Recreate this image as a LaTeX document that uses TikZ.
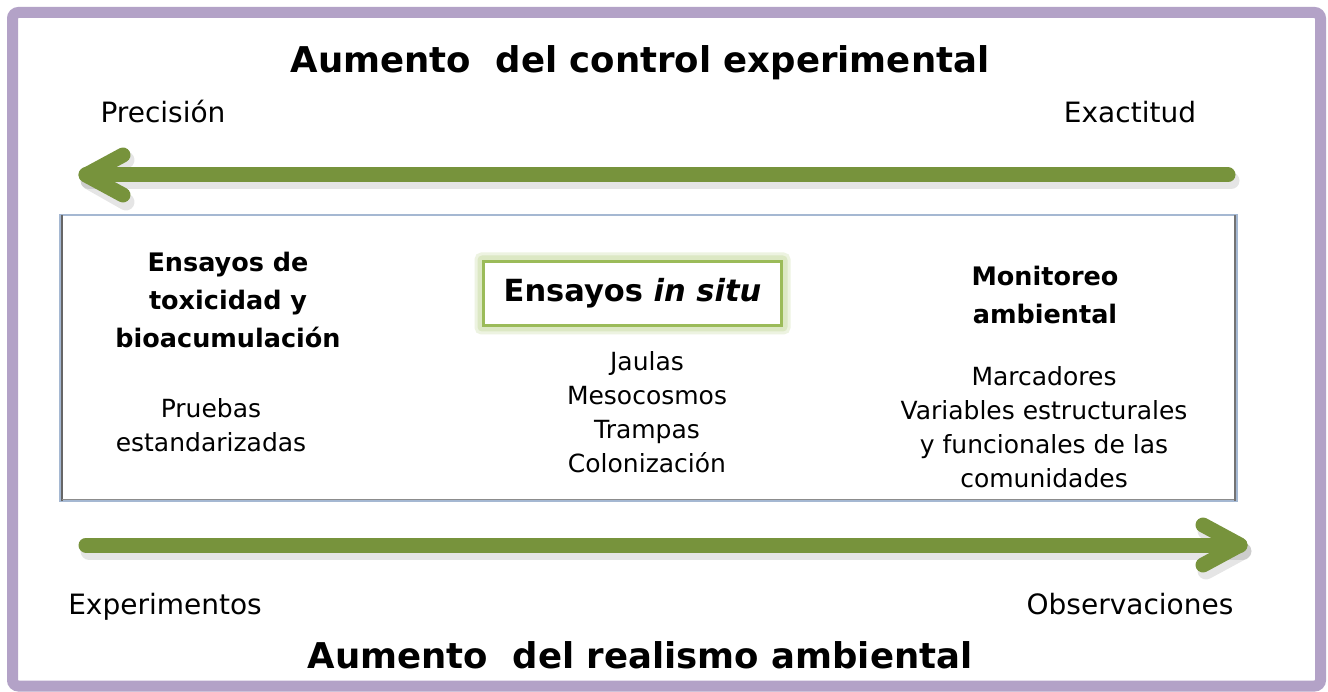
\documentclass[tikz,border=0pt]{standalone}
\usepackage{fontspec}
\setmainfont{DejaVu Sans}
\usetikzlibrary{positioning}

\begin{document}
\begin{tikzpicture}[x=1pt, y=-1pt,
    cornerlabel/.style={font=\fontsize{28}{32}\selectfont, inner sep=0pt, anchor=base},
    heading/.style={font=\bfseries\fontsize{25.5}{38}\selectfont, align=center, inner sep=0pt},
    body/.style={font=\fontsize{25}{34}\selectfont, align=center, inner sep=0pt},
    bigtitle/.style={font=\bfseries\fontsize{35.5}{40}\selectfont, inner sep=0pt, anchor=base},
    bigarrow/.style={draw=arrowGreen, line width=15pt, line cap=round, line join=round},
    arrowshadow/.style={draw=black, draw opacity=0.10, line width=17pt, line cap=round, line join=round}]
    \definecolor{arrowGreen}{HTML}{77933C}
    \definecolor{frameColour}{HTML}{B3A2C7}
    \definecolor{panelColour}{HTML}{A5B8D2}
    \definecolor{situBorder}{HTML}{9BBB59}
    \definecolor{situGlow}{HTML}{DCE8C4}

    \useasboundingbox (0,0) rectangle (1328,692);
    \fill[white] (0,0) rectangle (1328,692);

    \draw[frameColour, line width=11pt, rounded corners=6pt] (12.5,12.5) rectangle (1320.5,686);

    \node[bigtitle] (ctrlTitle) at (640,73) {Aumento\ \ del control experimental};
    \node[cornerlabel] (precision) at (163,123) {Precisión};
    \node[cornerlabel] (exactitud) at (1130,123) {Exactitud};

    \coordinate (ctrlTail) at (1228,175);
    \coordinate (ctrlTip) at (86,175);
    \draw[arrowshadow] ([shift={(3,6)}]ctrlTail) -- ([shift={(3,6)}]ctrlTip);
    \draw[arrowshadow] ([shift={(40,-15)}]ctrlTip) -- ([shift={(3,6)}]ctrlTip) -- ([shift={(40,27)}]ctrlTip);
    \draw[bigarrow] (ctrlTail) -- (ctrlTip);
    \draw[bigarrow] ([shift={(37,-20)}]ctrlTip) -- (ctrlTip) -- ([shift={(37,20)}]ctrlTip);

    \node[draw=panelColour, line width=2.5pt, fill=white, minimum width=1176pt, minimum height=286pt, inner sep=0pt] (panel) at (648.5,358) {};
    \draw[black!60, line width=2pt] ([shift={(3,1.5)}]panel.north west) -- ([shift={(3,-1.5)}]panel.south west);
    \draw[black!45, line width=1pt] ([shift={(3,-3)}]panel.south west) -- ([shift={(-3,-3)}]panel.south east);
    \draw[black!55, line width=1.5pt] ([shift={(-3,1.5)}]panel.north east) -- ([shift={(-3,-1.5)}]panel.south east);

    \node[heading] (labTitle) at (228,300) {Ensayos de\\toxicidad y\\bioacumulación};
    \node[body] (labBody) at (211,425) {Pruebas\\estandarizadas};

    \node[draw=situGlow!50, line width=6pt, rounded corners=4pt, minimum width=310pt, minimum height=76pt] (situHalo) at (632.5,293.5) {};
    \node[draw=situGlow, line width=6pt, rounded corners=2pt, minimum width=304pt, minimum height=70pt] (situGlowBox) at (632.5,293.5) {};
    \node[draw=situBorder, line width=2.5pt, fill=white, minimum width=298pt, minimum height=64pt,
        font=\bfseries\fontsize{30.5}{36}\selectfont] (situ) at (632.5,293.5) {Ensayos \textit{in situ}};
    \node[body] (situBody) at (647,412) {Jaulas\\Mesocosmos\\Trampas\\Colonización};

    \node[heading] (monTitle) at (1045,295) {Monitoreo\\ambiental};
    \node[body] (monBody) at (1044,427) {Marcadores\\Variables estructurales\\y funcionales de las\\comunidades};

    \coordinate (realTail) at (86,545);
    \coordinate (realTip) at (1240,545);
    \draw[arrowshadow] ([shift={(3,6)}]realTail) -- ([shift={(3,6)}]realTip);
    \draw[arrowshadow] ([shift={(-34,-14)}]realTip) -- ([shift={(3,6)}]realTip) -- ([shift={(-34,26)}]realTip);
    \draw[bigarrow] (realTail) -- (realTip);
    \draw[bigarrow] ([shift={(-37,-20)}]realTip) -- (realTip) -- ([shift={(-37,20)}]realTip);

    \node[cornerlabel] (experimentos) at (165,614) {Experimentos};
    \node[cornerlabel] (observaciones) at (1130,614) {Observaciones};
    \node[bigtitle] (realTitle) at (640,668) {Aumento\ \ del realismo ambiental};

\end{tikzpicture}
\end{document}
